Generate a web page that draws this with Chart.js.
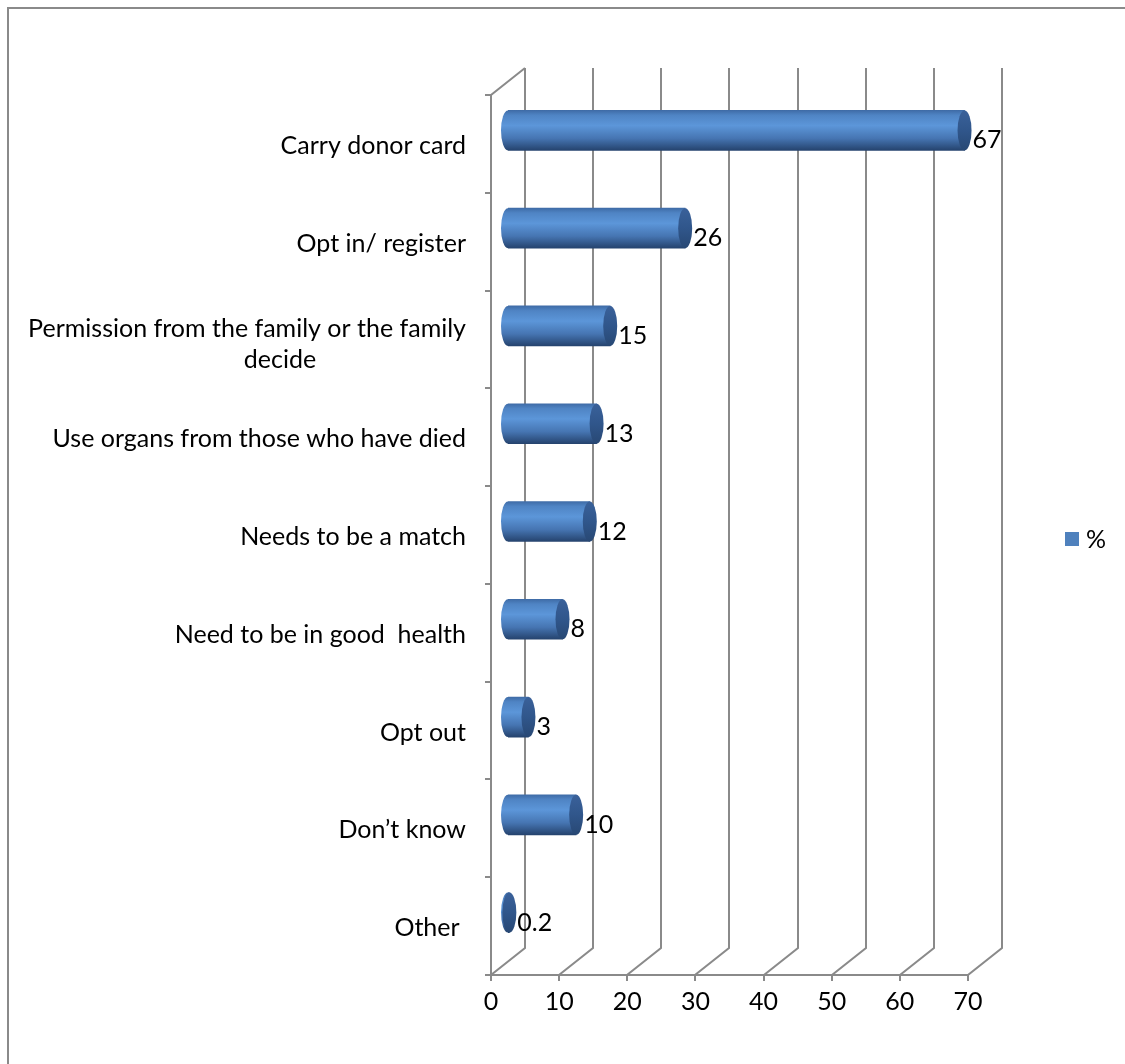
<!DOCTYPE html>
<html>
<head>
<meta charset="utf-8">
<title>Organ donation</title>
<script src="https://cdn.jsdelivr.net/npm/chart.js@4.4.1/dist/chart.umd.min.js"></script>
<style>
  html, body { margin: 0; padding: 0; background: #fff; }
  #wrap { width: 1125px; height: 1064px; }
</style>
</head>
<body>
<div id="wrap"><canvas id="donor-chart" width="1125" height="1064"></canvas></div>
<script>
// chart data
const categories = [
    'Carry donor card',
    'Opt in/ register',
    ['Permission from the family or the family', 'decide'],
    'Use organs from those who have died',
    'Needs to be a match',
    'Need to be in good  health',
    'Opt out',
    'Don\u2019t know',
    'Other '
];
const percentValues = [67, 26, 15, 13, 12, 8, 3, 10, 0.2];
const valueTicks = [0, 10, 20, 30, 40, 50, 60, 70];
const seriesName = '%';

const FONT = '"Lato", "Open Sans", sans-serif';
const FONT_SIZE = 25;
const DEPTH_X = 17;      // mid plane -> back wall
const DEPTH_Y = -13.5;
const LINE_COLOR = '#8a8a8a';
const CAP_RX = 7;

function barGradient(ctx, top, bottom) {
    const g = ctx.createLinearGradient(0, top, 0, bottom);
    g.addColorStop(0, '#3f6ca7');
    g.addColorStop(0.12, '#4f84c4');
    g.addColorStop(0.38, '#5c96d9');
    g.addColorStop(0.7, '#4675b2');
    g.addColorStop(1, '#25436e');
    return g;
}

// 3D walls, floor and ticks drawn behind the bars
const wallsPlugin = {
    id: 'walls3d',
    beforeDatasetsDraw(chart) {
        const { ctx, chartArea: a, scales: { x, y } } = chart;
        const r = Math.round;
        const frontBottom = r(a.bottom - DEPTH_Y);
        const frontTop = r(a.top - DEPTH_Y);
        const backTop = r(a.top + DEPTH_Y);
        const backBottom = r(a.bottom + DEPTH_Y);
        const x0 = x.getPixelForValue(valueTicks[0]);
        const xN = x.getPixelForValue(valueTicks[valueTicks.length - 1]);

        ctx.save();
        ctx.strokeStyle = LINE_COLOR;
        ctx.lineWidth = 2;
        ctx.beginPath();
        valueTicks.forEach(v => {
            const xm = x.getPixelForValue(v);
            ctx.moveTo(r(xm + DEPTH_X), backTop);
            ctx.lineTo(r(xm + DEPTH_X), backBottom);
            ctx.lineTo(r(xm - DEPTH_X), frontBottom);
            ctx.lineTo(r(xm - DEPTH_X), frontBottom + 6);
        });
        ctx.moveTo(r(x0 - DEPTH_X), frontBottom);
        ctx.lineTo(r(xN - DEPTH_X), frontBottom);
        ctx.moveTo(r(x0 - DEPTH_X), frontBottom);
        ctx.lineTo(r(x0 - DEPTH_X), frontTop);
        ctx.lineTo(r(x0 + DEPTH_X), backTop);
        for (let i = 0; i <= categories.length; i++) {
            const yb = r(y.getPixelForValue(i - 0.5) - DEPTH_Y);
            ctx.moveTo(r(x0 - DEPTH_X) - 6, yb);
            ctx.lineTo(r(x0 - DEPTH_X), yb);
        }
        ctx.stroke();
        ctx.restore();
    },
    afterDatasetsDraw(chart) {
        const { ctx } = chart;
        const meta = chart.getDatasetMeta(0);
        ctx.save();
        meta.data.forEach((bar, i) => {
            const h = bar.height;
            const top = bar.y - h / 2;
            // rounded left end
            ctx.beginPath();
            ctx.ellipse(bar.base, bar.y, CAP_RX, h / 2, 0, Math.PI / 2, Math.PI * 1.5);
            ctx.closePath();
            ctx.fillStyle = barGradient(ctx, top, top + h);
            ctx.fill();
            // end cap
            const cg = ctx.createLinearGradient(0, top, 0, top + h);
            cg.addColorStop(0, '#3a619a');
            cg.addColorStop(0.5, '#30568b');
            cg.addColorStop(1, '#284874');
            ctx.beginPath();
            ctx.ellipse(bar.x, bar.y, CAP_RX, h / 2, 0, 0, Math.PI * 2);
            ctx.fillStyle = cg;
            ctx.fill();
            // value label
            ctx.fillStyle = '#000';
            ctx.font = FONT_SIZE + 'px ' + FONT;
            ctx.textAlign = 'left';
            ctx.textBaseline = 'middle';
            ctx.fillText(String(percentValues[i]), bar.x + CAP_RX + 1, bar.y + 10);
        });
        ctx.restore();
    },
    afterDraw(chart) {
        const { ctx, scales: { y } } = chart;
        ctx.save();
        // outer frame
        ctx.fillStyle = LINE_COLOR;
        ctx.fillRect(7, 7, 1125, 2);
        ctx.fillRect(7, 7, 2, 1064);

        // category labels, aligned to the front plane
        ctx.fillStyle = '#000';
        ctx.font = FONT_SIZE + 'px ' + FONT;
        ctx.textBaseline = 'middle';
        const right = 466;
        const lineH = 31;
        categories.forEach((label, i) => {
            const lines = Array.isArray(label) ? label : [label];
            const cy = y.getPixelForValue(i) - DEPTH_Y + 2 + (lines.length - 1) * 3;
            const y0 = cy - (lines.length - 1) * lineH / 2;
            lines.forEach((line, k) => {
                if (k === 0) {
                    ctx.textAlign = 'right';
                    ctx.fillText(line, right, y0);
                } else {
                    ctx.textAlign = 'center';
                    ctx.fillText(line, 280, y0 + k * lineH);
                }
            });
        });

        // legend
        ctx.fillStyle = '#4f81bd';
        ctx.fillRect(1065, 532, 14, 14);
        ctx.fillStyle = '#000';
        ctx.textAlign = 'left';
        ctx.fillText(seriesName, 1086, 540);
        ctx.restore();
    }
};

const ctx = document.getElementById('donor-chart').getContext('2d');
const chart = new Chart(ctx, {
    type: 'bar',
    data: {
        labels: categories,
        datasets: [{
            label: seriesName,
            data: percentValues,
            barThickness: 40,
            borderWidth: 0,
            backgroundColor: function (c) {
                const ch = c.chart;
                if (!ch.chartArea || !ch.scales.y) return '#4f81bd';
                const yc = ch.scales.y.getPixelForValue(c.dataIndex);
                return barGradient(ch.ctx, yc - 20, yc + 20);
            }
        }]
    },
    options: {
        indexAxis: 'y',
        responsive: false,
        devicePixelRatio: 1,
        animation: false,
        layout: {
            padding: { top: 81.5, right: 140, bottom: 0, left: 0 }
        },
        plugins: {
            legend: { display: false },
            tooltip: { enabled: false }
        },
        scales: {
            x: {
                type: 'linear',
                min: 0,
                max: 70,
                ticks: {
                    stepSize: 10,
                    labelOffset: -DEPTH_X,
                    padding: 25,
                    color: '#000',
                    font: { family: FONT, size: FONT_SIZE }
                },
                grid: { display: false, drawTicks: false },
                border: { display: false },
                afterFit: function (s) { s.height = 102.5; }
            },
            y: {
                ticks: { display: false },
                grid: { display: false, drawTicks: false },
                border: { display: false },
                afterFit: function (s) { s.width = 508; }
            }
        }
    },
    plugins: [wallsPlugin]
});
</script>
</body>
</html>
